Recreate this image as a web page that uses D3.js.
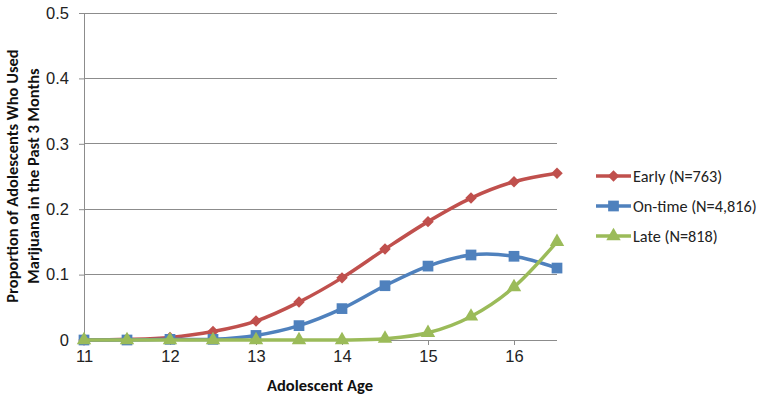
<!DOCTYPE html>
<html><head><meta charset="utf-8">
<script src="https://cdn.jsdelivr.net/npm/d3@7"></script>
<style>body{margin:0;background:#fff;} svg{display:block;font-family:Carlito,"Open Sans","Noto Sans",sans-serif;}</style>
</head><body>
<svg id="c" width="764" height="402"></svg>
<script>
const ages = [11, 11.5, 12, 12.5, 13, 13.5, 14, 14.5, 15, 15.5, 16, 16.5];
const early = [0, 0.001, 0.004, 0.013, 0.029, 0.058, 0.095, 0.139, 0.181, 0.217, 0.242, 0.255];
const onTime = [0, 0, 0.001, 0.001, 0.007, 0.022, 0.048, 0.083, 0.113, 0.130, 0.128, 0.110];
const late = [0, 0, 0, 0, 0, 0, 0, 0.002, 0.011, 0.036, 0.081, 0.150];
const seriesNames = ["Early (N=763)", "On-time (N=4,816)", "Late (N=818)"];
const yTicks = [0, 0.1, 0.2, 0.3, 0.4, 0.5];
const xTicks = [11, 12, 13, 14, 15, 16];

const svg = d3.select("#c");
const x = d3.scaleLinear().domain([11, 16.5]).range([84, 557]);
const y = d3.scaleLinear().domain([0, 0.5]).range([340, 13]);
const grid = "#8c8c8c";

// gridlines
svg.append("g").selectAll("line").data(yTicks.filter(d => d > 0)).join("line")
  .attr("x1", 84).attr("x2", 557).attr("y1", d => y(d)).attr("y2", d => y(d))
  .attr("stroke", grid).attr("stroke-width", 1).attr("shape-rendering", "crispEdges");

// y axis
const ya = svg.append("g").attr("transform", "translate(84,0)")
  .call(d3.axisLeft(y).tickValues(yTicks).tickSize(5).tickPadding(10).tickFormat(d => d === 0 ? "0" : d3.format(".1f")(d)));
ya.select(".domain").attr("stroke", grid);
ya.selectAll(".tick line").attr("stroke", grid);
ya.selectAll("text").attr("font-size", 16.5).attr("fill", "#222").style("font-family", "inherit");

// x axis
const xa = svg.append("g").attr("transform", "translate(0,340)")
  .call(d3.axisBottom(x).tickValues(xTicks).tickSize(5).tickPadding(5).tickFormat(d3.format("d")));
xa.select(".domain").attr("stroke", grid).attr("d", "M84,0.5H557");
xa.selectAll(".tick line").attr("stroke", grid);
xa.selectAll("text").attr("font-size", 16.5).attr("fill", "#222").style("font-family", "inherit");

// titles
svg.append("text").attr("x", 320).attr("y", 391).attr("text-anchor", "middle")
  .attr("font-size", 16.5).attr("font-weight", "bold").attr("fill", "#111").text("Adolescent Age");
const yt = svg.append("text").attr("transform", "translate(18,176) rotate(-90)")
  .attr("text-anchor", "middle").attr("font-size", 16.5).attr("font-weight", "bold").attr("fill", "#111");
yt.append("tspan").attr("x", 0).attr("dy", 0).text("Proportion of Adolescents Who Used");
yt.append("tspan").attr("x", 0).attr("dy", 20.5).text("Marijuana in the Past 3 Months");

const series = [
  {name: seriesNames[0], vals: early, color: "#C0504D", sym: d3.symbolSquare, size: 66, rot: 45},
  {name: seriesNames[1], vals: onTime, color: "#4F81BD", sym: d3.symbolSquare, size: 115, rot: 0},
  {name: seriesNames[2], vals: late, color: "#9BBB59", sym: d3.symbolTriangle, size: 90, rot: 0}
];

const line = d3.line().x((d, i) => x(ages[i])).y(d => y(d)).curve(d3.curveCatmullRom.alpha(0));

series.forEach(s => {
  svg.append("path").datum(s.vals).attr("d", line).attr("fill", "none")
    .attr("stroke", s.color).attr("stroke-width", 3.5);
  svg.append("g").selectAll("path").data(s.vals).join("path")
    .attr("transform", (d, i) => `translate(${x(ages[i])},${y(d)}) rotate(${s.rot})`)
    .attr("d", d3.symbol(s.sym, s.size)).attr("fill", s.color);
});

// legend
const lg = svg.append("g");
series.forEach((s, i) => {
  const yy = 176 + i * 30;
  lg.append("line").attr("x1", 596).attr("x2", 631).attr("y1", yy).attr("y2", yy)
    .attr("stroke", s.color).attr("stroke-width", 3.5);
  lg.append("path").attr("transform", `translate(613.5,${yy}) rotate(${s.rot})`).attr("d", d3.symbol(s.sym, s.size)).attr("fill", s.color);
  lg.append("text").attr("x", 633).attr("y", yy + 6).attr("font-size", 16.3).attr("fill", "#222").text(s.name);
});
</script>
</body></html>
